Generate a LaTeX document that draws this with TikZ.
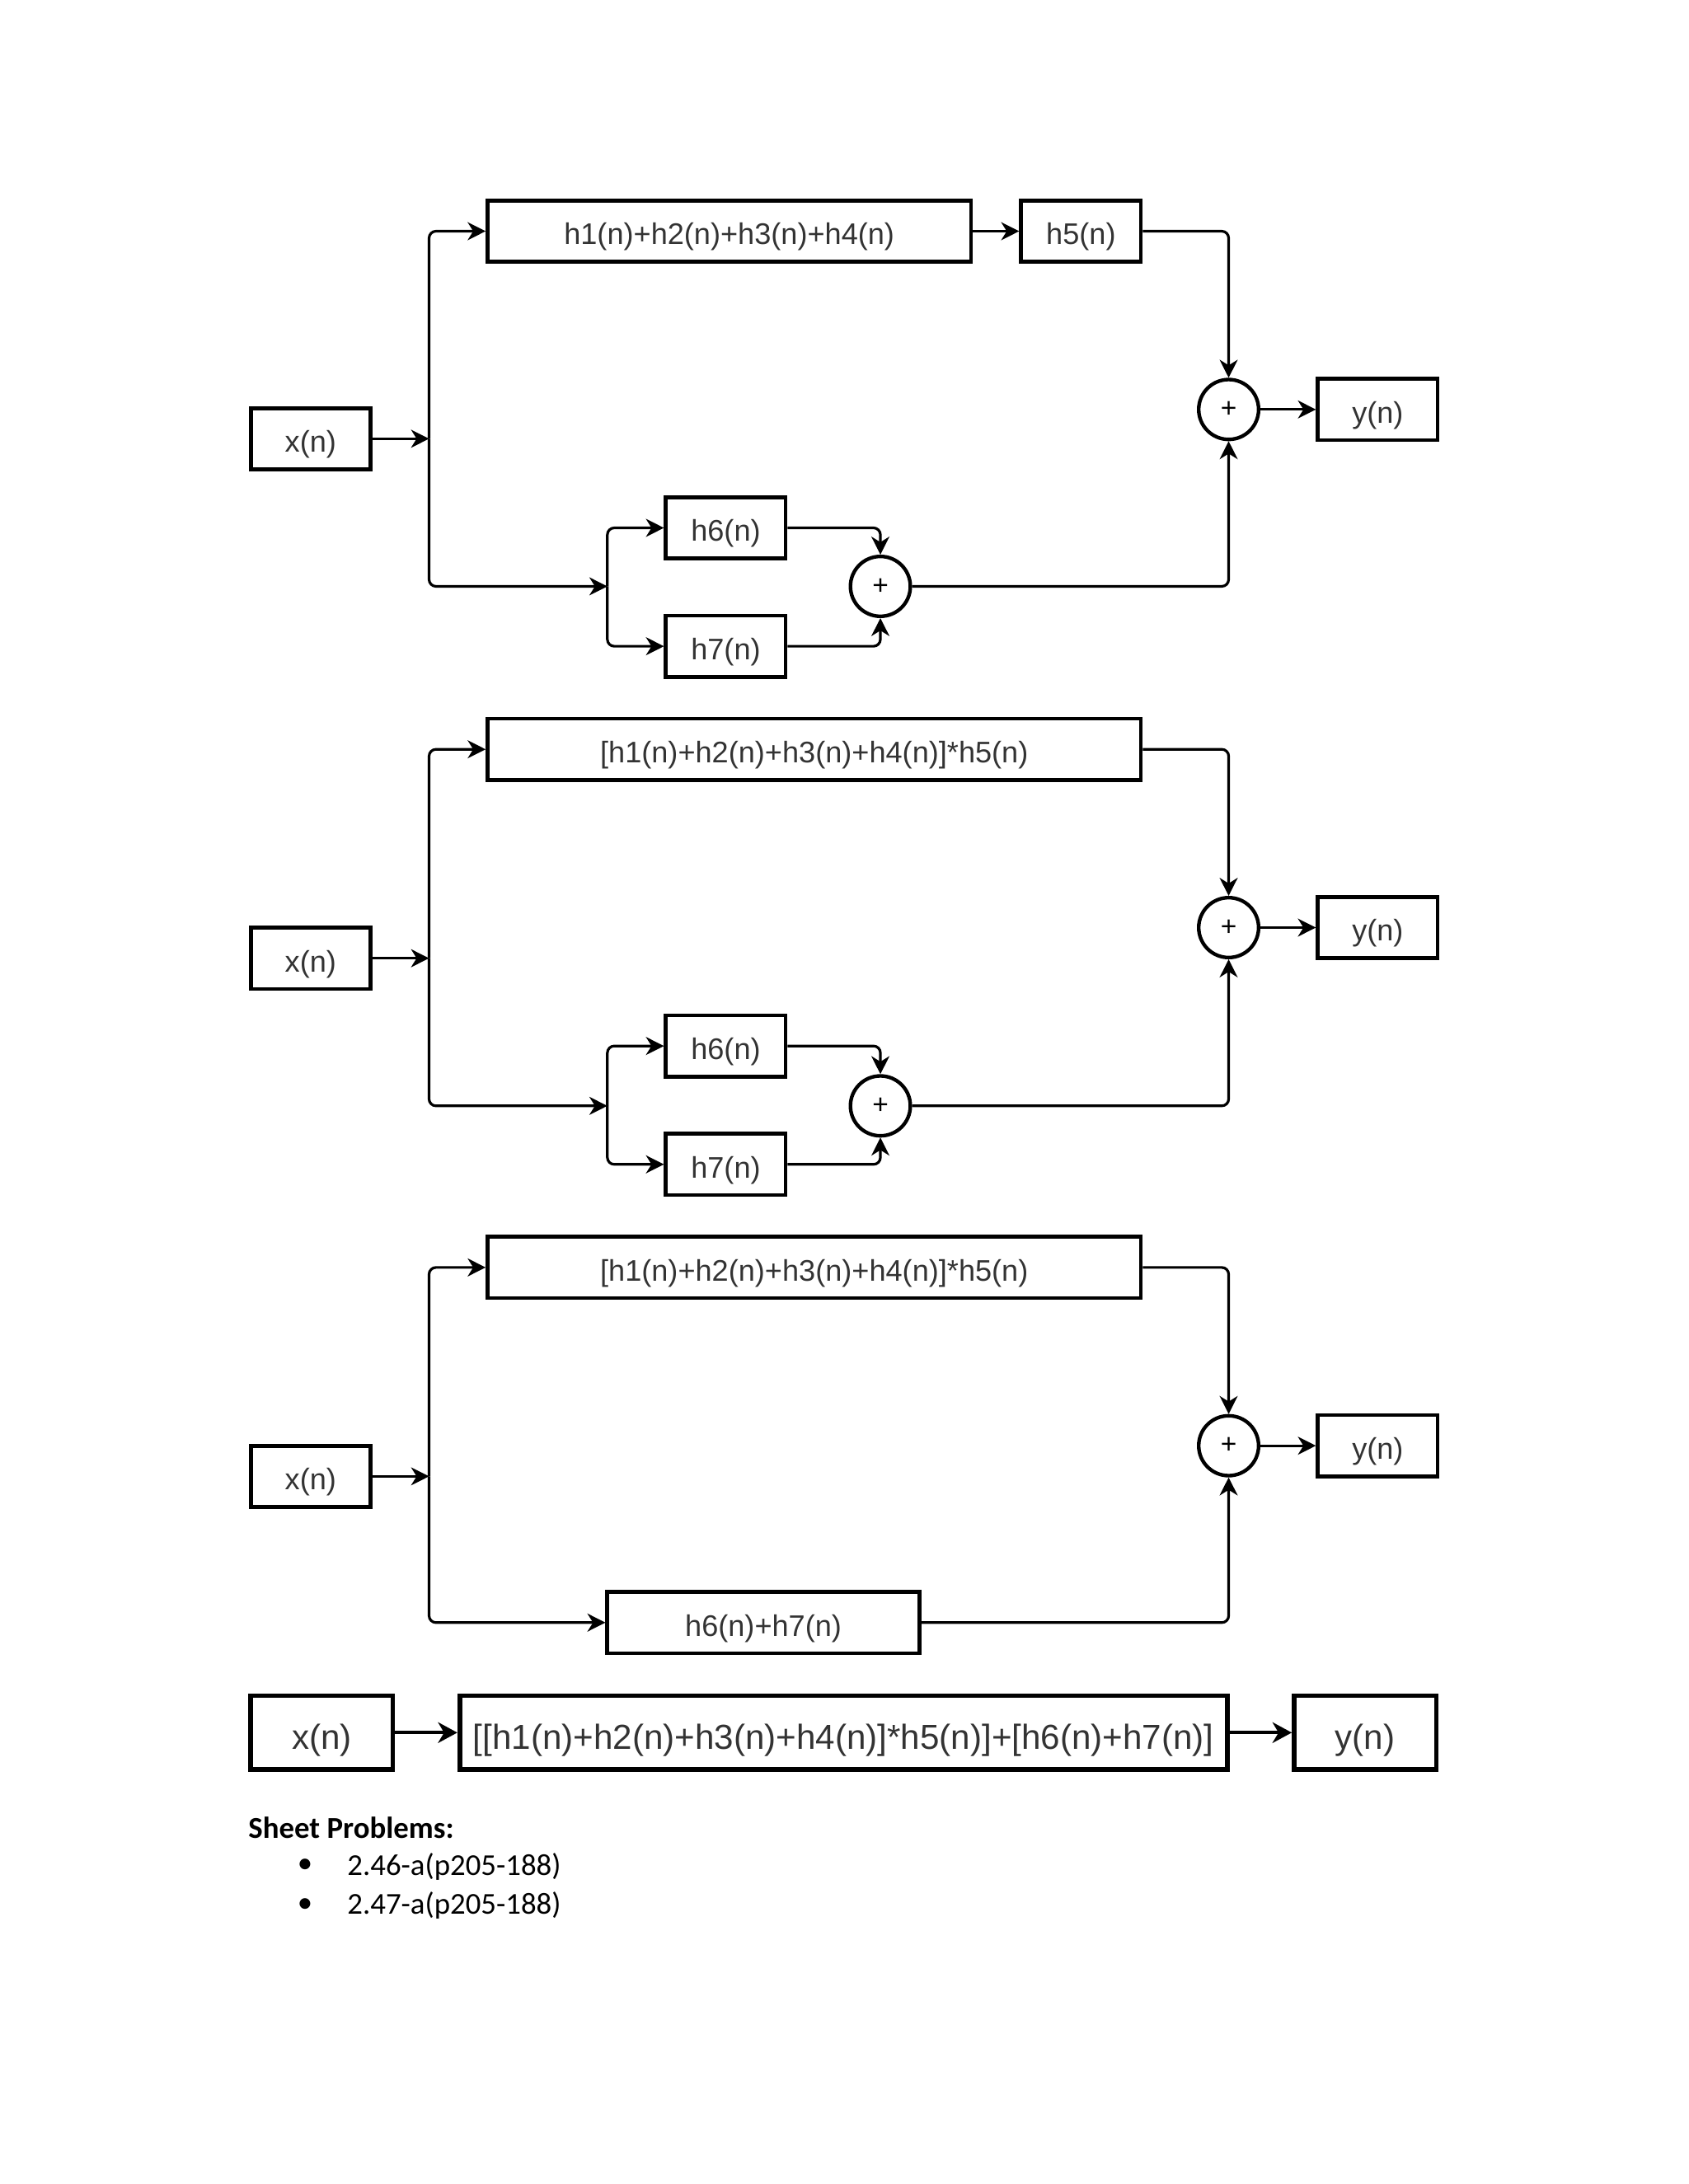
\documentclass[tikz,border=0pt]{standalone}
\usepackage{fontspec}
\setmainfont{Liberation Sans}
\newfontfamily\calfont{Carlito}
\usetikzlibrary{arrows.meta}
\definecolor{txt}{HTML}{333333}
\def\uu{0.505}
\begin{document}
\begin{tikzpicture}[x=\uu pt,y=-\uu pt,
  blk/.style={draw, line width=1.4pt, minimum height=44*\uu pt, inner sep=0pt, text height=10.8pt, text depth=1pt, text=txt, font=\fontsize{10.8}{12}\selectfont},
  bigblk/.style={draw, line width=1.7pt, minimum height=53*\uu pt, inner sep=0pt, text height=13pt, text depth=1pt, text=txt, font=\fontsize{12.6}{14}\selectfont},
  sumc/.style={draw, circle, line width=1.3pt, minimum size=43*\uu pt, inner sep=0pt, text=black, font=\fontsize{10}{11}\selectfont},
  conn/.style={line width=0.95pt, rounded corners=2.5pt, -{Stealth[length=6.5pt,width=6.5pt,inset=2pt]}},
  bconn/.style={line width=1.1pt, -{Stealth[length=7pt,width=7.5pt,inset=2.2pt]}}]
\useasboundingbox (0,0) rectangle (1211.9,1568.1);

% ---------------- Diagram 1 ----------------
\node[blk, minimum width=86*\uu pt] (xa) at (223,315) {x(n)};
\node[blk, minimum width=347*\uu pt] (fa) at (523.5,166) {h1(n)+h2(n)+h3(n)+h4(n)};
\node[blk, minimum width=86*\uu pt] (h5a) at (776,166) {h5(n)};
\node[sumc] (sa) at (882,294) {+};
\node[blk, minimum width=86*\uu pt] (ya) at (989,294) {y(n)};
\node[blk, minimum width=86*\uu pt] (h6a) at (521,379) {h6(n)};
\node[blk, minimum width=86*\uu pt] (h7a) at (521,464) {h7(n)};
\node[sumc] (ta) at (632,421) {+};
\coordinate (ja) at (308,315);
\coordinate (ka) at (436,421);
\draw[conn] (xa.east) -- (ja);
\draw[conn] (ja) |- (fa.west);
\draw[conn] (ja) |- (ka);
\draw[conn] (fa.east) -- (h5a.west);
\draw[conn] (h5a.east) -| (sa.north);
\draw[conn] (sa.east) -- (ya.west);
\draw[conn] (ka) |- (h6a.west);
\draw[conn] (ka) |- (h7a.west);
\draw[conn] (h6a.east) -| (ta.north);
\draw[conn] (h7a.east) -| (ta.south);
\draw[conn] (ta.east) -| (sa.south);

% ---------------- Diagram 2 ----------------
\node[blk, minimum width=86*\uu pt] (xb) at (223,688) {x(n)};
\node[blk, minimum width=469*\uu pt] (fb) at (584.5,538) {[h1(n)+h2(n)+h3(n)+h4(n)]*h5(n)};
\node[sumc] (sb) at (882,666) {+};
\node[blk, minimum width=86*\uu pt] (yb) at (989,666) {y(n)};
\node[blk, minimum width=86*\uu pt] (h6b) at (521,751) {h6(n)};
\node[blk, minimum width=86*\uu pt] (h7b) at (521,836) {h7(n)};
\node[sumc] (tb) at (632,794) {+};
\coordinate (jb) at (308,688);
\coordinate (kb) at (436,794);
\draw[conn] (xb.east) -- (jb);
\draw[conn] (jb) |- (fb.west);
\draw[conn] (jb) |- (kb);
\draw[conn] (fb.east) -| (sb.north);
\draw[conn] (sb.east) -- (yb.west);
\draw[conn] (kb) |- (h6b.west);
\draw[conn] (kb) |- (h7b.west);
\draw[conn] (h6b.east) -| (tb.north);
\draw[conn] (h7b.east) -| (tb.south);
\draw[conn] (tb.east) -| (sb.south);

% ---------------- Diagram 3 ----------------
\node[blk, minimum width=86*\uu pt] (xc) at (223,1060) {x(n)};
\node[blk, minimum width=469*\uu pt] (fc) at (584.5,910) {[h1(n)+h2(n)+h3(n)+h4(n)]*h5(n)};
\node[sumc] (sc) at (882,1038) {+};
\node[blk, minimum width=86*\uu pt] (yc) at (989,1038) {y(n)};
\node[blk, minimum width=224*\uu pt] (gc) at (548,1165) {h6(n)+h7(n)};
\coordinate (jc) at (308,1060);
\draw[conn] (xc.east) -- (jc);
\draw[conn] (jc) |- (fc.west);
\draw[conn] (jc) |- (gc.west);
\draw[conn] (fc.east) -| (sc.north);
\draw[conn] (sc.east) -- (yc.west);
\draw[conn] (gc.east) -| (sc.south);

% ---------------- Diagram 4 ----------------
\node[bigblk, minimum width=102*\uu pt] (xd) at (231,1244) {x(n)};
\node[bigblk, minimum width=551*\uu pt] (fd) at (605.5,1244) {[[h1(n)+h2(n)+h3(n)+h4(n)]*h5(n)]+[h6(n)+h7(n)]};
\node[bigblk, minimum width=102*\uu pt] (yd) at (980,1244) {y(n)};
\draw[bconn] (xd.east) -- (fd.west);
\draw[bconn] (fd.east) -- (yd.west);

% ---------------- Text ----------------
\node[anchor=west, inner sep=0pt, font=\calfont\bfseries\fontsize{11}{13}\selectfont] (sp) at (178,1312) {Sheet Problems:};
\node[anchor=center, inner sep=0pt, font=\calfont\fontsize{11}{13}\selectfont] (b1) at (219,1340) {•};
\node[anchor=west, inner sep=0pt, font=\calfont\fontsize{11}{13}\selectfont] (p1) at (249,1340) {2.46-a(p205-188)};
\node[anchor=center, inner sep=0pt, font=\calfont\fontsize{11}{13}\selectfont] (b2) at (219,1368) {•};
\node[anchor=west, inner sep=0pt, font=\calfont\fontsize{11}{13}\selectfont] (p2) at (249,1368) {2.47-a(p205-188)};
\end{tikzpicture}
\end{document}
